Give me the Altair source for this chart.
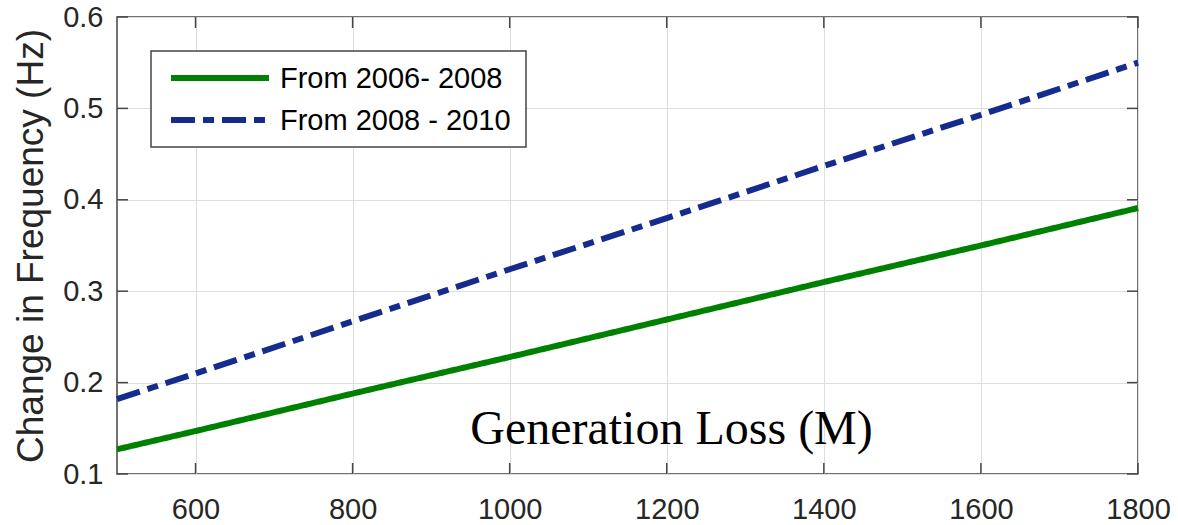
import altair as alt
import pandas as pd

# Generation loss (MW) against the resulting change in frequency (Hz)
gen_loss = [500, 600, 800, 1000, 1200, 1400, 1600, 1800]
freq_2006_2008 = [0.127, 0.147, 0.188, 0.228, 0.269, 0.310, 0.350, 0.391]
freq_2008_2010 = [0.182, 0.210, 0.267, 0.324, 0.380, 0.437, 0.493, 0.550]

series_names = ["From 2006- 2008", "From 2008 - 2010"]
series_colors = ["#008000", "#152b8e"]
series_dashes = [[1, 0], [24, 8, 11, 8]]

x_ticks = [600, 800, 1000, 1200, 1400, 1600, 1800]
y_ticks = [0.1, 0.2, 0.3, 0.4, 0.5, 0.6]

W, H = 1021, 457
TICK = 11
FRAME = "#444444"
TEXT = "#262626"

rows = []
for name, vals in zip(series_names, [freq_2006_2008, freq_2008_2010]):
    for g, f in zip(gen_loss, vals):
        rows.append({"series": name, "loss": g, "freq": f})
df = pd.DataFrame(rows)

x_scale = alt.Scale(domain=[500, 1800], nice=False, zero=False)
y_scale = alt.Scale(domain=[0.1, 0.6], nice=False, zero=False)

x_axis = alt.Axis(
    values=x_ticks, grid=True, gridColor="#dedede", gridWidth=1, format="d",
    domain=False, ticks=False, labelFlush=False, labelOverlap=False,
    labelFont="Liberation Sans", labelFontSize=29, labelColor=TEXT, labelPadding=21,
    title="Generation Loss (M)", titleFont="Liberation Serif", titleFontSize=48,
    titleFontWeight="normal", titleColor="black", titleX=554, titleY=-31,
    titleBaseline="alphabetic", titleAlign="center",
)
y_axis = alt.Axis(
    values=y_ticks, grid=True, gridColor="#dedede", gridWidth=1,
    domain=False, ticks=False, labelFlush=False, labelOverlap=False, format=".1f",
    labelFont="Liberation Sans", labelFontSize=29, labelColor=TEXT, labelPadding=14,
    title="Change in Frequency (Hz)", titleFont="Liberation Sans", titleFontSize=37,
    titleFontWeight="normal", titleColor=TEXT, titleX=-75, titleY=228.5,
    titleAngle=270, titleBaseline="alphabetic", titleAlign="center",
)

lines = alt.Chart(df).mark_line(strokeWidth=6, strokeCap="butt").encode(
    x=alt.X("loss:Q", scale=x_scale, axis=x_axis),
    y=alt.Y("freq:Q", scale=y_scale, axis=y_axis),
    color=alt.Color("series:N", scale=alt.Scale(domain=series_names, range=series_colors), legend=None),
    strokeDash=alt.StrokeDash("series:N", scale=alt.Scale(domain=series_names, range=series_dashes), legend=None),
    detail="series:N",
)

# inward tick marks on all four sides of the box
xt = pd.DataFrame({"loss": x_ticks})
yt = pd.DataFrame({"freq": y_ticks})
tick_bottom = alt.Chart(xt).mark_rule(color=FRAME, strokeWidth=1.5).encode(
    x=alt.X("loss:Q", scale=x_scale), y=alt.value(H), y2=alt.value(H - TICK))
tick_top = alt.Chart(xt).mark_rule(color=FRAME, strokeWidth=1.5).encode(
    x=alt.X("loss:Q", scale=x_scale), y=alt.value(0), y2=alt.value(TICK))
tick_left = alt.Chart(yt).mark_rule(color=FRAME, strokeWidth=1.5).encode(
    y=alt.Y("freq:Q", scale=y_scale), x=alt.value(0), x2=alt.value(TICK))
tick_right = alt.Chart(yt).mark_rule(color=FRAME, strokeWidth=1.5).encode(
    y=alt.Y("freq:Q", scale=y_scale), x=alt.value(W), x2=alt.value(W - TICK))

# legend box in the upper-left corner
one = pd.DataFrame({"k": [0]})
legend_layers = [
    alt.Chart(one).mark_rect(fill="white", stroke=FRAME, strokeWidth=1.5).encode(
        x=alt.value(34), x2=alt.value(409), y=alt.value(34), y2=alt.value(130))
]
for i, (name, col, dash) in enumerate(zip(series_names, series_colors, series_dashes)):
    ly = 61 + 42 * i
    legend_layers.append(
        alt.Chart(one).mark_rule(color=col, strokeWidth=6, strokeDash=dash, strokeCap="butt").encode(
            x=alt.value(54), x2=alt.value(152), y=alt.value(ly))
    )
    legend_layers.append(
        alt.Chart(one).mark_text(align="left", baseline="middle", font="Liberation Sans",
                                 fontSize=29, color="black", text=name).encode(
            x=alt.value(163), y=alt.value(ly + 1))
    )

chart = alt.layer(
    lines, tick_bottom, tick_top, tick_left, tick_right, *legend_layers
).properties(
    width=W, height=H,
    autosize=alt.AutoSizeParams(type="none"),
    padding={"left": 117, "top": 17, "right": 40, "bottom": 51},
    background="white",
).configure_view(stroke=FRAME, strokeWidth=1.5)

chart.save("out.html", embed_options={"renderer": "svg", "actions": False})
